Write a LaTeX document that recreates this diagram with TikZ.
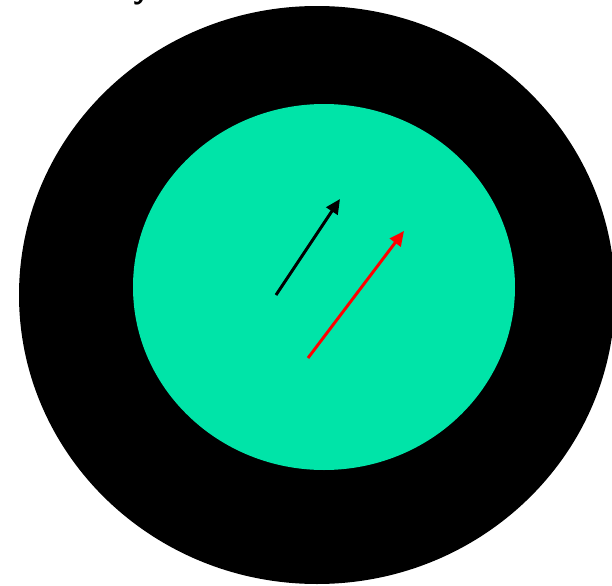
\documentclass[tikz,border=0pt]{standalone}
\usepackage{tikz}
\usetikzlibrary{arrows.meta}
\definecolor{disc}{RGB}{0,228,168}
\tikzset{
  vec/.style={line width=2.2pt,-{Triangle[length=11pt,width=10pt]}},
}
\begin{document}
\begin{tikzpicture}[x=0.75pt,y=-0.75pt]
  \useasboundingbox (0,0) rectangle (612,586);
  % outer ring and inner disc
  \fill[black] (317,295) ellipse [x radius=298, y radius=289];
  \fill[disc] (324,287) ellipse [x radius=191, y radius=183];
  % cut-off title
  \node[font=\sffamily\bfseries\fontsize{24}{28}\selectfont,anchor=base,inner sep=0pt] (title) at (141,-2) {y};
  % vectors
  \coordinate (a0) at (276,295);
  \coordinate (a1) at (340,199);
  \coordinate (b0) at (308,358);
  \coordinate (b1) at (404,231);
  \draw[vec,black] (a0) -- (a1);
  \draw[vec,red] (b0) -- (b1);
\end{tikzpicture}
\end{document}
